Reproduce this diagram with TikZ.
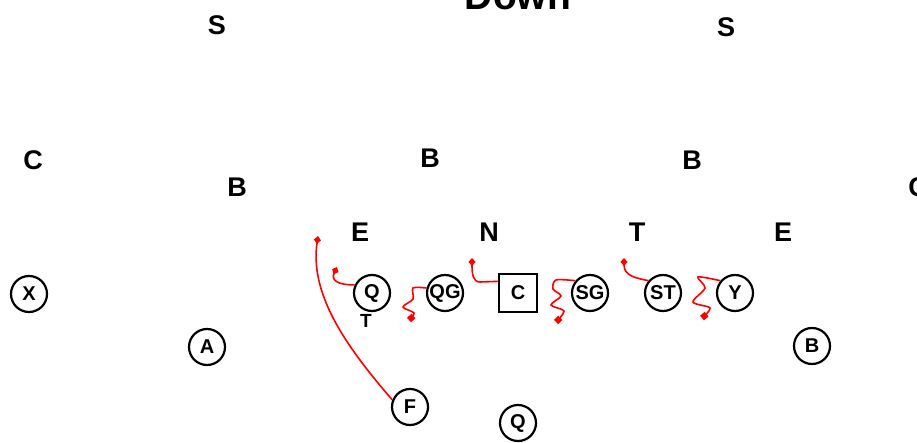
\documentclass[tikz,border=0pt]{standalone}
\usepackage{fontspec}
\setmainfont{Liberation Sans}
\usetikzlibrary{arrows.meta, positioning}

\begin{document}
\begin{tikzpicture}[
		x=1pt, y=-1pt,
		player/.style={
			circle, 
			draw=black, 
			line width=2.2pt, 
			minimum size=36pt, 
			inner sep=0pt, 
			font=\fontsize{20}{20}\selectfont\bfseries
		},
		snapper/.style={
			rectangle, 
			draw=black, 
			line width=2.2pt, 
			minimum size=38pt, 
			inner sep=0pt, 
			font=\fontsize{20}{20}\selectfont\bfseries
		},
		defender/.style={
			inner sep=0pt, 
			font=\fontsize{27}{27}\selectfont\bfseries
		},
		route/.style={
			red, 
			line width=1.6pt
		},
		stunt/.style={
			route, 
			-{Turned Square[length=8pt, width=7pt]}
		},
		block/.style={
			route, 
			-{Square[length=6pt, width=6pt]}
		}
		]
		
		\useasboundingbox (0,0) rectangle (917,443);
		\clip (0,0) rectangle (917,443);
		
		% Title
		\node (title) [anchor=base, inner sep=0pt, font=\fontsize{39}{39}\selectfont\bfseries] at (518,10) {Down};
		
		% Defense
		\node (sl) [defender] at (217,25) {S};
		\node (sr) [defender] at (726,27) {S};
		\node (cl) [defender] at (33,160) {C};
		\node (cr) [defender] at (918,187) {C};
		\node (bl) [defender] at (237,187) {B};
		\node (bm) [defender] at (430,158) {B};
		\node (br) [defender] at (692,160) {B};
		\node (el) [defender] at (360,232) {E};
		\node (nt) [defender] at (489,232) {N};
		\node (dt) [defender] at (637,232) {T};
		\node (er) [defender] at (783,232) {E};
		
		% Offense
		\node (wrx) [player] at (29,294) {X};
		\node (wra) [player] at (207,347) {A};
		\node (tq) [player] at (372,293) {Q};
		\node (qg) [player] at (445,293) {QG};
		\node (ctr) [snapper] at (518,293) {C};
		\node (sg) [player] at (590,293) {SG};
		\node (st) [player] at (663,293) {ST};
		\node (tey) [player] at (735,293) {Y};
		\node (wrb) [player] at (812,346) {B};
		\node (fb) [player] at (410,407) {F};
		\node (qb) [player] at (518,423) {Q};
		\node (tlabel) [inner sep=0pt, font=\fontsize{19}{19}\selectfont\bfseries] at (366,321) {T};
		
		% Route ends
		\coordinate (fEnd) at (318,236);
		\coordinate (tqEnd) at (337,267);
		\coordinate (qgEnd) at (409,320);
		\coordinate (ctrEnd) at (472,258);
		\coordinate (sgEnd) at (556,322);
		\coordinate (stEnd) at (624,258);
		\coordinate (teyEnd) at (702,318);
		
		% Routes
		\draw [stunt] (fb.158) .. controls (342,342) and (310,292) .. (fEnd);
		\draw [stunt] (tq.155) .. controls (337,285) and (331,280) .. (tqEnd);
		\draw [block] plot[smooth, tension=0.5] coordinates {(qg.165) (413,288) (413,299) (403,307) (414,313) (qgEnd)};
		\draw [stunt] (ctr.150) -- (480,282) .. controls (473,282) and (472,274) .. (ctrEnd);
		\draw [block] plot[smooth, tension=0.5] coordinates {(sg.140) (556,280) (553,289) (561,296) (551,305) (564,311) (sgEnd)};
		\draw [stunt] (st.140) .. controls (636,278) and (624,276) .. (stEnd);
		\draw [block] plot[smooth, tension=0.5] coordinates {(tey.140) (698,277) (705,288) (693,302) (710,308) (teyEnd)};
		
	\end{tikzpicture}
\end{document}
